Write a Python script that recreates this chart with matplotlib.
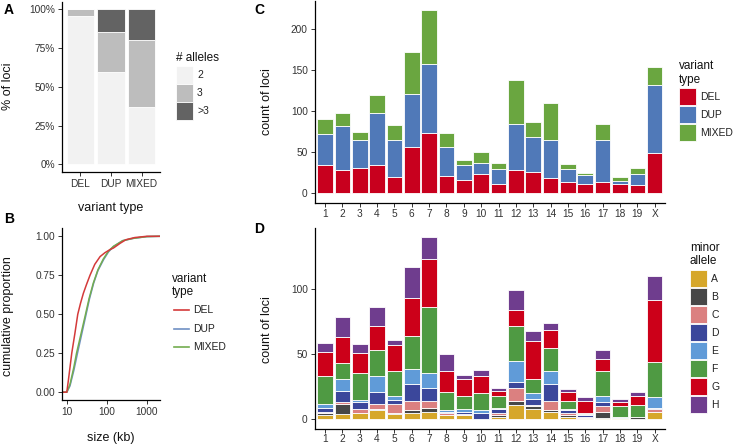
import numpy as np
import matplotlib
matplotlib.use("Agg")
import matplotlib.pyplot as plt
from matplotlib.patches import Rectangle
from matplotlib.lines import Line2D

plt.rcParams['font.family'] = ['Liberation Sans', 'DejaVu Sans']

W, H = 733, 445

# ---- panel A: share of loci by number of alleles
types = ["DEL", "DUP", "MIXED"]
allele_levels = ["2", "3", ">3"]
allele_frac = {
    "2": [0.955, 0.597, 0.372],
    "3": [0.045, 0.255, 0.430],
    ">3": [0.000, 0.148, 0.198],
}
allele_colors = ["#F2F2F2", "#BDBDBD", "#636363"]

# ---- panel B: cumulative size distribution (kb)
del_size = [10, 11, 13.3, 16, 18.8, 22, 26, 31, 38, 50, 68, 90, 121, 147, 215, 300, 500, 1000, 2000]
del_prop = [0, 0.08, 0.25, 0.38, 0.5, 0.57, 0.635, 0.69, 0.75, 0.82, 0.87, 0.895, 0.915, 0.925, 0.955, 0.978, 0.992, 1.0, 1.0]
dup_size = [10, 12, 15, 18.5, 23, 29.5, 37, 47, 60, 83, 110, 147, 250, 464, 1000, 2000]
dup_prop = [0, 0.04, 0.14, 0.25, 0.36, 0.485, 0.6, 0.7, 0.78, 0.85, 0.9, 0.934, 0.972, 0.987, 0.998, 1.0]
mix_size = [10, 12, 15, 17.5, 22, 28.5, 36, 46, 60, 82, 110, 147, 250, 464, 1000, 2000]
mix_prop = [0, 0.05, 0.16, 0.25, 0.36, 0.485, 0.6, 0.7, 0.785, 0.855, 0.905, 0.936, 0.972, 0.987, 0.998, 1.0]
type_colors = ["#C8001E", "#5079B8", "#6AA640"]
line_colors = ["#D43A3A", "#6F90C4", "#73AD4F"]

# ---- panel C: loci per chromosome by variant type
chroms = [str(i) for i in range(1, 20)] + ["X"]
c_del = [35, 28, 31, 34, 20, 56, 73, 21, 16, 23, 11, 28, 26, 19, 14, 12, 14, 12, 10, 49]
c_dup = [37, 54, 34, 64, 45, 65, 85, 36, 19, 14, 19, 56, 43, 46, 16, 10, 51, 3, 14, 83]
c_mix = [19, 16, 10, 22, 18, 51, 65, 16, 6, 13, 7, 54, 18, 45, 6, 3, 19, 5, 7, 22]

# ---- panel D: loci per chromosome by minor allele
minor_levels = ["A", "B", "C", "D", "E", "F", "G", "H"]
minor_counts = {
    "A": [3, 4, 5, 7, 4, 5, 6, 3, 3, 0, 2, 11, 8, 6, 2, 1, 1, 1, 0, 6],
    "B": [2, 8, 0, 1, 1, 2, 3, 0, 0, 0, 1, 3, 2, 1, 1, 0, 5, 0, 2, 0],
    "C": [1, 1, 3, 4, 7, 7, 5, 2, 1, 0, 2, 10, 1, 7, 2, 1, 4, 0, 0, 2],
    "D": [3, 9, 5, 9, 3, 13, 10, 1, 2, 5, 3, 5, 5, 13, 2, 1, 3, 0, 0, 1],
    "E": [3, 9, 2, 12, 3, 12, 12, 1, 2, 2, 1, 16, 4, 10, 1, 1, 5, 1, 0, 8],
    "F": [21, 12, 21, 20, 19, 25, 50, 14, 10, 13, 9, 27, 11, 18, 6, 1, 19, 8, 9, 27],
    "G": [19, 20, 15, 19, 20, 29, 37, 16, 13, 13, 4, 12, 29, 14, 7, 9, 9, 3, 7, 48],
    "H": [7, 16, 7, 14, 4, 24, 17, 13, 3, 5, 2, 15, 8, 5, 2, 3, 7, 3, 3, 18],
}
minor_colors = ["#D6A72A", "#474747", "#DB8080", "#3B479B", "#609BD8", "#4F9A43", "#CC0019", "#6F3D8E"]


def px_box(l, t, r, b):
    return [l / W, 1 - b / H, (r - l) / W, (b - t) / H]


def ftext(x, y, s, **kw):
    kw.setdefault("ha", "left")
    kw.setdefault("va", "center")
    fig.text(x / W, 1 - y / H, s, **kw)


def style_axes(ax):
    for side in ["top", "right"]:
        ax.spines[side].set_visible(False)
    for side in ["left", "bottom"]:
        ax.spines[side].set_linewidth(0.9)
        ax.spines[side].set_color("black")
    ax.tick_params(length=3, width=0.7, colors="#333333", labelsize=7.3, pad=2,
                   labelcolor="#333333")


def legend_boxes(x, y, title, labels, colors, step=18, key=17):
    lines = title.split("\n")
    for i, ln in enumerate(lines):
        ftext(x, y + i * 13.5, ln, fontsize=8.5, color="#111111")
    y0 = y + len(lines) * 13.5 - 5
    for i, (lab, col) in enumerate(zip(labels, colors)):
        top = y0 + i * step
        fig.add_artist(Rectangle((x / W, 1 - (top + key) / H), key / W, key / H,
                                 transform=fig.transFigure, facecolor=col,
                                 edgecolor="white", linewidth=0.6))
        ftext(x + key + 4, top + key / 2, lab, fontsize=7.5, color="#222222")


def legend_lines(x, y, title, labels, colors, step=18.5):
    lines = title.split("\n")
    for i, ln in enumerate(lines):
        ftext(x, y + i * 13.5, ln, fontsize=8.5, color="#111111")
    y0 = y + len(lines) * 13.5 + 4
    for i, (lab, col) in enumerate(zip(labels, colors)):
        yy = 1 - (y0 + i * step) / H
        fig.add_artist(Line2D([(x + 2) / W, (x + 17) / W], [yy, yy],
                              transform=fig.transFigure, color=col, linewidth=1.2))
        ftext(x + 21, y0 + i * step, lab, fontsize=7.5, color="#222222")


fig = plt.figure(figsize=(W / 100, H / 100), dpi=100)

# ---------------- A
axA = fig.add_axes(px_box(62, 1.5, 160, 172))
xs = np.arange(len(types))
bottom = np.zeros(len(types))
for lev, col in zip(allele_levels, allele_colors):
    vals = np.array(allele_frac[lev])
    axA.bar(xs, vals, 0.9, bottom=bottom, color=col, edgecolor="white", linewidth=0.6)
    bottom += vals
axA.set_xlim(-0.6, 2.6)
axA.set_ylim(-0.05, 1.05)
axA.set_xticks(xs)
axA.set_xticklabels(types)
axA.set_yticks([0, 0.25, 0.5, 0.75, 1.0])
axA.set_yticklabels(["0%", "25%", "50%", "75%", "100%"])
style_axes(axA)
ftext(8, 86, "% of loci", rotation=90, ha="center", fontsize=9, color="#111111")
ftext(111, 208, "variant type", ha="center", fontsize=9, color="#111111")
legend_boxes(176, 58, "# alleles", allele_levels, allele_colors)
ftext(4, 10, "A", fontsize=10, fontweight="bold")

# ---------------- B
axB = fig.add_axes(px_box(62, 228.5, 160, 400))
lo, hi = 10 ** 0.88, 10 ** 3.33
for sz, pr, col in [(dup_size, dup_prop, line_colors[1]),
                    (mix_size, mix_prop, line_colors[2]),
                    (del_size, del_prop, line_colors[0])]:
    axB.plot([lo] + sz + [hi], [0] + pr + [1], color=col, linewidth=1.1)
axB.set_xscale("log")
axB.set_xlim(lo, hi)
axB.set_ylim(-0.05, 1.05)
axB.set_xticks([10, 100, 1000])
axB.set_xticklabels(["10", "100", "1000"])
axB.minorticks_off()
axB.set_yticks([0, 0.25, 0.5, 0.75, 1.0])
axB.set_yticklabels(["0.00", "0.25", "0.50", "0.75", "1.00"])
style_axes(axB)
ftext(8, 316, "cumulative proportion", rotation=90, ha="center", fontsize=9, color="#111111")
ftext(111, 438, "size (kb)", ha="center", fontsize=9, color="#111111")
legend_lines(172, 279, "variant\ntype", types, line_colors)
ftext(4, 219, "B", fontsize=10, fontweight="bold")

# ---------------- C
axC = fig.add_axes(px_box(314.6, 1.3, 665.1, 202.5))
xc = np.arange(len(chroms))
bottom = np.zeros(len(chroms))
for vals, col in zip([c_del, c_dup, c_mix], type_colors):
    vals = np.array(vals, dtype=float)
    axC.bar(xc, vals, 0.9, bottom=bottom, color=col, edgecolor="white", linewidth=0.6)
    bottom += vals
axC.set_xlim(-0.6, len(chroms) - 0.4)
axC.set_ylim(-0.05 * bottom.max(), 1.05 * bottom.max())
axC.set_xticks(xc)
axC.set_xticklabels(chroms)
axC.set_yticks([0, 50, 100, 150, 200])
style_axes(axC)
ftext(267, 102, "count of loci", rotation=90, ha="center", fontsize=9, color="#111111")
legend_boxes(679, 66, "variant\ntype", types, type_colors)
ftext(254, 10, "C", fontsize=10, fontweight="bold")

# ---------------- D
axD = fig.add_axes(px_box(314.6, 228, 665.1, 428.5))
bottom = np.zeros(len(chroms))
for lev, col in zip(minor_levels, minor_colors):
    vals = np.array(minor_counts[lev], dtype=float)
    axD.bar(xc, vals, 0.9, bottom=bottom, color=col, edgecolor="white", linewidth=0.6)
    bottom += vals
axD.set_xlim(-0.6, len(chroms) - 0.4)
axD.set_ylim(-0.05 * bottom.max(), 1.05 * bottom.max())
axD.set_xticks(xc)
axD.set_xticklabels(chroms)
axD.set_yticks([0, 50, 100])
style_axes(axD)
axD.tick_params(axis="x", pad=1.2)
ftext(267, 330, "count of loci", rotation=90, ha="center", fontsize=9, color="#111111")
legend_boxes(690, 248, "minor\nallele", minor_levels, minor_colors)
ftext(254, 229, "D", fontsize=10, fontweight="bold")

fig.savefig("out.png", dpi=100)
